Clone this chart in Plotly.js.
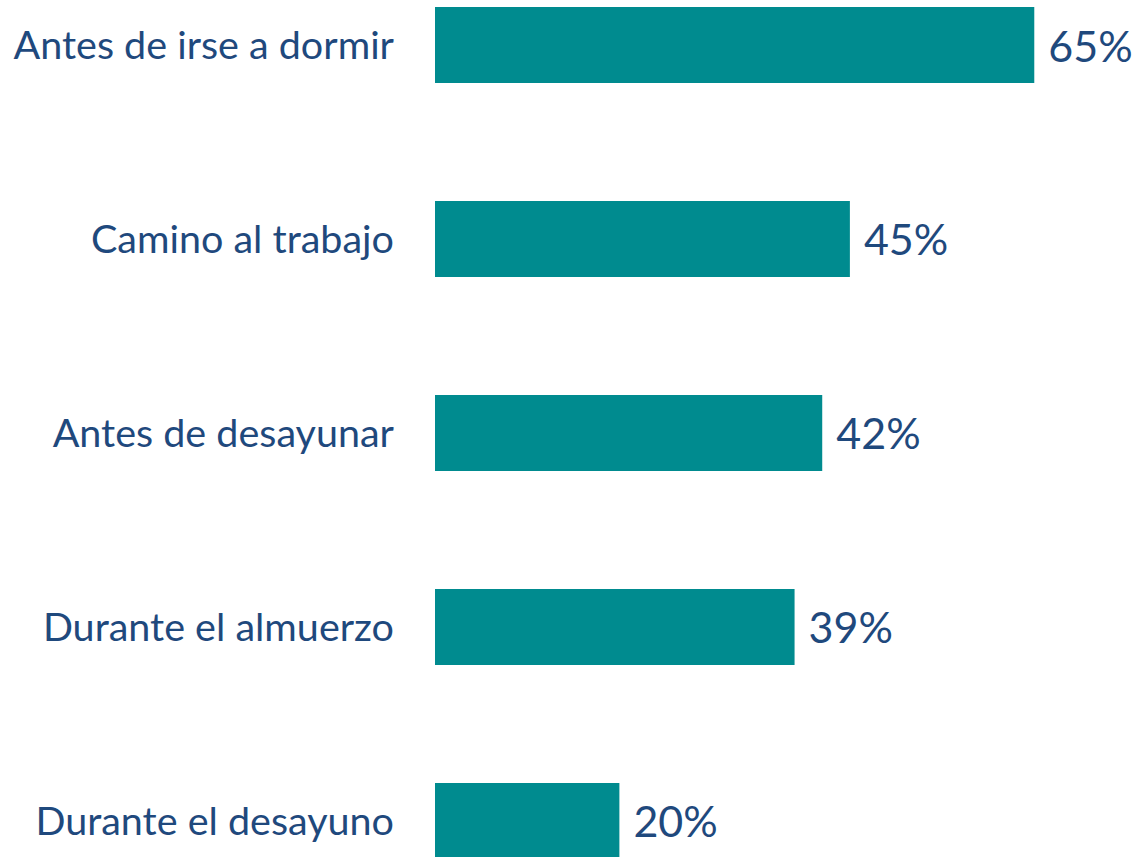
<!DOCTYPE html>
<html>
<head>
<meta charset="utf-8">
<script src="https://cdn.plot.ly/plotly-3.0.1.min.js"></script>
<style>
  html, body { margin: 0; padding: 0; background: #fff; }
  #grafica { width: 1138px; height: 857px; }
</style>
</head>
<body>
<div id="grafica"></div>
<script>
const momentos = ["Antes de irse a dormir", "Camino al trabajo", "Antes de desayunar", "Durante el almuerzo", "Durante el desayuno"];
const porcentajes = [65, 45, 42, 39, 20];
const etiquetas = porcentajes.map(v => "\u00a0" + v + "%");

const azul = "#1F497D";

const data = [
    {
        x: porcentajes,
        y: momentos,
        type: 'bar',
        orientation: "h",
        marker: {color: '#008B8F'},
        text: etiquetas,
        textposition: 'outside',
        cliponaxis: false,
        textfont: {family: 'Lato, sans-serif', size: 43, color: azul},
        hoverinfo: 'none'
    }
];

const layout = {
    width: 1138,
    height: 857,
    margin: {l: 435, r: 0, t: 0, b: 0},
    bargap: 0.608,
    showlegend: false,
    paper_bgcolor: '#fff',
    plot_bgcolor: '#fff',
    xaxis: {
        range: [0, 76.25],
        visible: false,
        showgrid: false,
        zeroline: false
    },
    yaxis: {
        type: 'category',
        range: [4.186, -0.232],
        showgrid: false,
        zeroline: false,
        showline: false,
        ticks: '',
        ticklabelstandoff: 40,
        tickfont: {family: 'Lato, sans-serif', size: 39.5, color: azul}
    }
};

Plotly.newPlot("grafica", data, layout, {displayModeBar: false, staticPlot: true});
</script>
</body>
</html>
